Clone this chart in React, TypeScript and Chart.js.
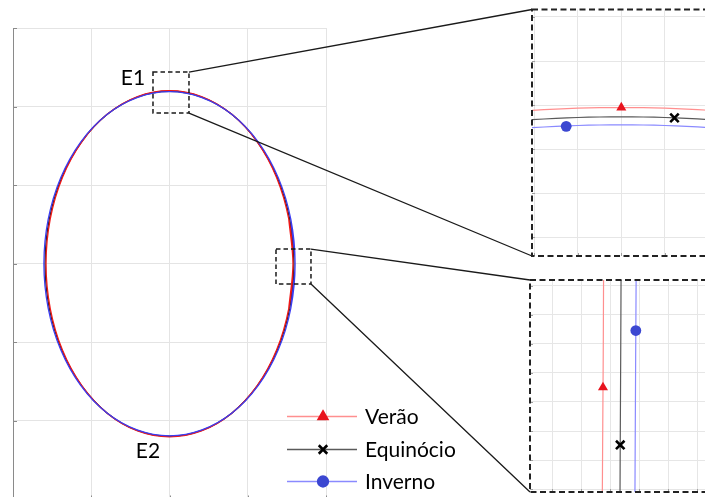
import { useEffect, useRef } from "react";
import { Chart, registerables } from "chart.js";
import { drawPoint } from "chart.js/helpers";

Chart.register(...registerables);

// ---- Main loop data (x, y), the start is repeated at the end so the spline closes smoothly ----
const veraoX = [1.524, 1.578, 1.524, 1.367, 1.116, 0.789, 0.408, 0, -0.408, -0.789, -1.116, -1.367, -1.524, -1.578, -1.524, -1.367, -1.116, -0.789, -0.408, 0, 0.408, 0.789, 1.116, 1.367, 1.524, 1.578, 1.524];
const veraoY = [-0.57, 0, 0.57, 1.102, 1.558, 1.908, 2.128, 2.203, 2.128, 1.908, 1.558, 1.102, 0.57, 0, -0.57, -1.102, -1.558, -1.908, -2.128, -2.203, -2.128, -1.908, -1.558, -1.102, -0.57, 0, 0.57];
const equinocioX = [1.536, 1.59, 1.536, 1.377, 1.124, 0.795, 0.412, 0, -0.412, -0.795, -1.124, -1.377, -1.536, -1.59, -1.536, -1.377, -1.124, -0.795, -0.412, 0, 0.412, 0.795, 1.124, 1.377, 1.536, 1.59, 1.536];
const equinocioY = [-0.568, 0, 0.568, 1.098, 1.552, 1.901, 2.12, 2.195, 2.12, 1.901, 1.552, 1.098, 0.568, 0, -0.568, -1.098, -1.552, -1.901, -2.12, -2.195, -2.12, -1.901, -1.552, -1.098, -0.568, 0, 0.568];
const invernoX = [1.55, 1.605, 1.55, 1.39, 1.135, 0.803, 0.415, 0, -0.415, -0.803, -1.135, -1.39, -1.55, -1.605, -1.55, -1.39, -1.135, -0.803, -0.415, 0, 0.415, 0.803, 1.135, 1.39, 1.55, 1.605, 1.55];
const invernoY = [-0.567, 0, 0.567, 1.095, 1.549, 1.897, 2.115, 2.19, 2.115, 1.897, 1.549, 1.095, 0.567, 0, -0.567, -1.095, -1.549, -1.897, -2.115, -2.19, -2.115, -1.897, -1.549, -1.095, -0.567, 0, 0.567];

const mainXTicks = [-2, -1, 0, 1, 2];
const mainYTicks = [-3, -2, -1, 0, 1, 2, 3];

// Zoomed regions on the main plot (data units)
const e1Region = { x0: -0.211, x1: 0.249, y0: 1.917, y1: 2.439 };
const e2Region = { x0: 1.361, x1: 1.808, y0: -0.258, y1: 0.187 };
const e1Label = { x: -0.467, y: 2.365, text: "E1" };
const e2Label = { x: -0.275, y: -2.383, text: "E2" };

// ---- Detail E1 (top of the loop) ----
const e1X = [-0.05, 0.5, 1, 1.5, 2, 2.5, 3, 3.5, 4, 4.5, 5];
const e1Verao = [2.878, 2.908, 2.928, 2.939, 2.943, 2.939, 2.928, 2.908, 2.881, 2.846, 2.804];
const e1Equinocio = [2.667, 2.697, 2.717, 2.728, 2.732, 2.728, 2.717, 2.697, 2.67, 2.635, 2.593];
const e1Inverno = [2.485, 2.515, 2.535, 2.546, 2.55, 2.546, 2.535, 2.515, 2.488, 2.453, 2.411];
const e1Markers = { verao: [2, 2.943], equinocio: [3.22, 2.709], inverno: [0.735, 2.515] };
const e1XTicks = [0, 1, 2, 3, 4, 5];
const e1YTicks = [0, 1, 2, 3, 4, 5];

// ---- Detail E2 (right side of the loop) ----
const e2Y = [-0.1, 1.5, 3, 4.5, 6, 7.2];
const e2Verao = [1.735, 1.745, 1.755, 1.765, 1.772, 1.777];
const e2Equinocio = [2.345, 2.352, 2.36, 2.368, 2.375, 2.38];
const e2Inverno = [2.86, 2.868, 2.876, 2.884, 2.893, 2.9];
const e2Markers = { verao: [1.757, 3.5], equinocio: [2.352, 1.52], inverno: [2.89, 5.46] };
const e2XTicks = [0, 1, 2, 3, 4, 5, 6, 7];
const e2YTicks = [0, 1, 2, 3, 4, 5, 6, 7];

const seriesNames = ["Verão", "Equinócio", "Inverno"];

// ---- Layout ----
const W = 705;
const H = 497;
const MAIN_CANVAS_H = 512;
const MAIN_AREA = { left: 13, top: 28, right: 326, bottom: 499.5 };
const DETAIL1_BOX = { left: 532, top: 9.5, right: 752, bottom: 256 };
const DETAIL2_BOX = { left: 530, top: 280, right: 755, bottom: 492 };
const FONT = "21px Lato, 'Open Sans', sans-serif";

const style = {
  verao: { main: "#f01818", pale: "#ff8f8f", marker: "#e8141e", pointStyle: "triangle", radius: 5.8 },
  equinocio: { main: "#222222", pale: "#5a5a5a", marker: "#000000", pointStyle: "crossRot", radius: 6 },
  inverno: { main: "#3c3cf2", pale: "#8a8aff", marker: "#3b47d1", pointStyle: "circle", radius: 5.4 },
};

const zip = (xs: number[], ys: number[]) => xs.map((x, i) => ({ x, y: ys[i] }));

function linearScale(min: number, max: number, ticks: number[], grid: string, border?: string) {
  return {
    type: "linear" as const,
    min,
    max,
    afterBuildTicks: (s: any) => {
      s.ticks = ticks.map((v) => ({ value: v }));
    },
    ticks: { display: false },
    grid: { color: grid, drawTicks: false, lineWidth: 1 },
    border: { display: !!border, color: border || grid, width: 1 },
  };
}

function inwardTicks(chart: any, len: number, color: string) {
  const { ctx, chartArea, scales } = chart;
  ctx.save();
  ctx.strokeStyle = color;
  ctx.lineWidth = 1;
  ctx.beginPath();
  for (const t of scales.y.ticks) {
    const py = Math.round(scales.y.getPixelForValue(t.value)) + 0.5;
    ctx.moveTo(chartArea.left, py);
    ctx.lineTo(chartArea.left + len, py);
  }
  for (const t of scales.x.ticks) {
    const px = Math.round(scales.x.getPixelForValue(t.value)) + 0.5;
    ctx.moveTo(px, chartArea.bottom);
    ctx.lineTo(px, chartArea.bottom - len);
  }
  ctx.stroke();
  ctx.restore();
}

function markerDataset(pt: number[], s: any) {
  return {
    data: [{ x: pt[0], y: pt[1] }],
    showLine: false,
    pointStyle: s.pointStyle,
    pointRadius: s.radius,
    pointBackgroundColor: s.marker,
    pointBorderColor: s.marker,
    pointBorderWidth: s.pointStyle === "crossRot" ? 2.6 : 0,
    order: 0,
  };
}

function lineDataset(data: { x: number; y: number }[], color: string, width: number, order: number) {
  return {
    data,
    showLine: true,
    borderColor: color,
    borderWidth: width,
    pointRadius: 0,
    tension: 0.33,
    fill: false,
    order,
  };
}

function MainChart() {
  const ref = useRef<HTMLCanvasElement>(null);
  useEffect(() => {
    const canvas = ref.current!;
    const decor = {
      id: "mainDecor",
      afterDraw(chart: any) {
        const { ctx, scales } = chart;
        const xs = scales.x;
        const ys = scales.y;
        inwardTicks(chart, 4, "#8a8a8a");

        // dashed zoom regions and their connectors
        const regions = [
          { r: e1Region, box: DETAIL1_BOX },
          { r: e2Region, box: DETAIL2_BOX },
        ];
        for (const { r, box } of regions) {
          const x0 = xs.getPixelForValue(r.x0);
          const x1 = xs.getPixelForValue(r.x1);
          const y0 = ys.getPixelForValue(r.y1);
          const y1 = ys.getPixelForValue(r.y0);
          ctx.save();
          ctx.strokeStyle = "#1a1a1a";
          ctx.lineWidth = 1.5;
          ctx.setLineDash([4.5, 3]);
          ctx.strokeRect(x0, y0, x1 - x0, y1 - y0);
          ctx.setLineDash([]);
          ctx.lineWidth = 1.3;
          ctx.beginPath();
          ctx.moveTo(x1, y0);
          ctx.lineTo(box.left, box.top);
          ctx.moveTo(x1, y1);
          ctx.lineTo(box.left, box.bottom);
          ctx.stroke();
          ctx.restore();
        }

        // point labels
        ctx.save();
        ctx.font = FONT;
        ctx.fillStyle = "#000";
        ctx.textAlign = "center";
        ctx.textBaseline = "middle";
        for (const l of [e1Label, e2Label]) {
          ctx.fillText(l.text, xs.getPixelForValue(l.x), ys.getPixelForValue(l.y));
        }
        ctx.restore();

        // legend
        const rows = [style.verao, style.equinocio, style.inverno];
        const lx0 = 287;
        const lx1 = 357;
        const mx = 323;
        const rowY = [416, 449, 481];
        ctx.save();
        rows.forEach((s, i) => {
          const y = rowY[i];
          ctx.strokeStyle = s.pale;
          ctx.lineWidth = 1.5;
          ctx.beginPath();
          ctx.moveTo(lx0, y + 0.5);
          ctx.lineTo(lx1, y + 0.5);
          ctx.stroke();
          ctx.fillStyle = s.marker;
          ctx.strokeStyle = s.marker;
          ctx.lineWidth = s.pointStyle === "crossRot" ? 2.6 : 0;
          drawPoint(ctx, { pointStyle: s.pointStyle, radius: s.radius, rotation: 0, borderWidth: ctx.lineWidth } as any, mx, y + 0.5);
          ctx.font = FONT;
          ctx.fillStyle = "#000";
          ctx.textAlign = "left";
          ctx.textBaseline = "middle";
          ctx.fillText(seriesNames[i], 365, y + 1);
        });
        ctx.restore();
      },
    };

    const chart = new Chart(canvas, {
      type: "scatter",
      data: {
        datasets: [
          { label: seriesNames[0], ...lineDataset(zip(veraoX, veraoY), style.verao.main, 1.3, 1) },
          { label: seriesNames[1], ...lineDataset(zip(equinocioX, equinocioY), style.equinocio.main, 1.3, 2) },
          { label: seriesNames[2], ...lineDataset(zip(invernoX, invernoY), style.inverno.main, 1.3, 0) },
        ] as any,
      },
      options: {
        responsive: false,
        animation: false,
        devicePixelRatio: 1,
        events: [],
        layout: {
          padding: {
            left: MAIN_AREA.left,
            top: MAIN_AREA.top,
            right: W - MAIN_AREA.right,
            bottom: MAIN_CANVAS_H - MAIN_AREA.bottom,
          },
        },
        plugins: { legend: { display: false }, tooltip: { enabled: false } },
        scales: {
          x: linearScale(-2, 2, mainXTicks, "#e4e4e4", "#8a8a8a"),
          y: linearScale(-3, 3, mainYTicks, "#e4e4e4", "#8a8a8a"),
        } as any,
      },
      plugins: [decor],
    });
    return () => chart.destroy();
  }, []);
  return (
    <canvas
      ref={ref}
      width={W}
      height={MAIN_CANVAS_H}
      style={{ position: "absolute", left: 0, top: 0, width: W, height: MAIN_CANVAS_H }}
    />
  );
}

type DetailProps = {
  box: { left: number; top: number; right: number; bottom: number };
  lines: { x: number; y: number }[][];
  markers: number[][];
  xRange: number[];
  yRange: number[];
  xTicks: number[];
  yTicks: number[];
};

function DetailChart({ box, lines, markers, xRange, yRange, xTicks, yTicks }: DetailProps) {
  const ref = useRef<HTMLCanvasElement>(null);
  const pad = 10;
  const cLeft = box.left - pad;
  const cTop = Math.max(0, box.top - pad);
  const cW = box.right - box.left + 2 * pad;
  const cH = Math.ceil(box.bottom - cTop + pad);
  useEffect(() => {
    const canvas = ref.current!;
    const frame = {
      id: "detailFrame",
      afterDraw(chart: any) {
        const { ctx, chartArea } = chart;
        inwardTicks(chart, 3, "#a0a0a0");
        ctx.save();
        ctx.strokeStyle = "#222";
        ctx.lineWidth = 2;
        ctx.setLineDash([6, 3.5]);
        ctx.strokeRect(chartArea.left, chartArea.top, chartArea.right - chartArea.left, chartArea.bottom - chartArea.top);
        ctx.restore();
      },
    };
    const palette = [style.verao, style.equinocio, style.inverno];
    const chart = new Chart(canvas, {
      type: "scatter",
      data: {
        datasets: [
          ...markers.map((m, i) => markerDataset(m, palette[i])),
          ...lines.map((d, i) => lineDataset(d, palette[i].pale, 1.2, 1)),
        ] as any,
      },
      options: {
        responsive: false,
        animation: false,
        devicePixelRatio: 1,
        events: [],
        layout: {
          padding: {
            left: box.left - cLeft,
            top: box.top - cTop,
            right: cLeft + cW - box.right,
            bottom: cTop + cH - box.bottom,
          },
        },
        plugins: { legend: { display: false }, tooltip: { enabled: false } },
        scales: {
          x: linearScale(xRange[0], xRange[1], xTicks, "#e6e6e6"),
          y: linearScale(yRange[0], yRange[1], yTicks, "#e6e6e6"),
        } as any,
      },
      plugins: [frame],
    });
    return () => chart.destroy();
  }, []);
  return (
    <canvas
      ref={ref}
      width={cW}
      height={cH}
      style={{ position: "absolute", left: cLeft, top: cTop, width: cW, height: cH }}
    />
  );
}

export default function App() {
  return (
    <div
      style={{
        position: "fixed",
        left: 0,
        top: 0,
        width: W,
        height: H,
        overflow: "hidden",
        background: "#fff",
      }}
    >
      <MainChart />
      <DetailChart
        box={DETAIL1_BOX}
        lines={[zip(e1X, e1Verao), zip(e1X, e1Equinocio), zip(e1X, e1Inverno)]}
        markers={[e1Markers.verao, e1Markers.equinocio, e1Markers.inverno]}
        xRange={[-0.05, 5]}
        yRange={[-0.43, 5.17]}
        xTicks={e1XTicks}
        yTicks={e1YTicks}
      />
      <DetailChart
        box={DETAIL2_BOX}
        lines={[zip(e2Verao, e2Y), zip(e2Equinocio, e2Y), zip(e2Inverno, e2Y)]}
        markers={[e2Markers.verao, e2Markers.equinocio, e2Markers.inverno]}
        xRange={[-0.76, 7]}
        yRange={[-0.1, 7.2]}
        xTicks={e2XTicks}
        yTicks={e2YTicks}
      />
    </div>
  );
}
